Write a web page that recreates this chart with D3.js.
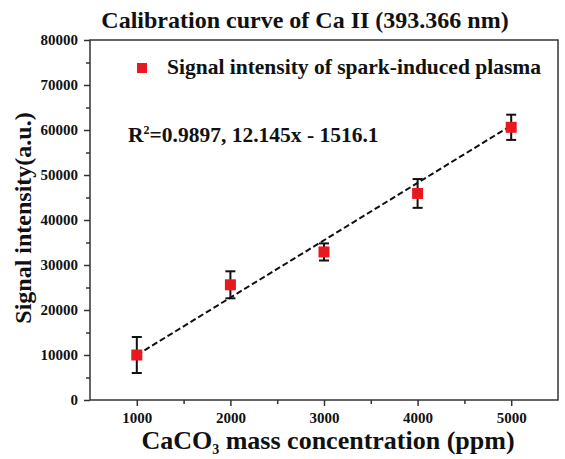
<!DOCTYPE html>
<html>
<head>
<meta charset="utf-8">
<script src="https://cdn.jsdelivr.net/npm/d3@7"></script>
<style>
  body { margin: 0; background: #fff; }
  text { font-family: "Liberation Serif", "Times New Roman", serif; font-weight: bold; }
</style>
</head>
<body>
<svg id="chart" width="565" height="459"></svg>
<script>
// data
var concentration = [1000, 2000, 3000, 4000, 5000];
var intensity = [10000, 25600, 32900, 45900, 60600];
var errorBar = [4000, 3000, 1900, 3200, 2800];
var fitX = [1000, 5000];
var fitY = [10000, 61000];
var xTicks = [1000, 2000, 3000, 4000, 5000];
var yTicks = [0, 10000, 20000, 30000, 40000, 50000, 60000, 70000, 80000];

var svg = d3.select("#chart");
var mLeft = 90, mRight = 558, mTop = 40, mBottom = 400;

var x = d3.scaleLinear().domain([500, 5500]).range([mLeft, mRight]);
var y = d3.scaleLinear().domain([0, 80000]).range([mBottom, mTop]);

var axisColor = "#333";

// frame
svg.append("rect")
    .attr("x", mLeft).attr("y", mTop)
    .attr("width", mRight - mLeft).attr("height", mBottom - mTop)
    .attr("fill", "none").attr("stroke", axisColor).attr("stroke-width", 1.5);

// minor ticks
let xMinor = svg.append("g")
    .attr("transform", "translate(0," + mBottom + ")")
    .call(d3.axisBottom(x).tickValues([1500, 2500, 3500, 4500]).tickSize(4).tickFormat(""));
let yMinor = svg.append("g")
    .attr("transform", "translate(" + mLeft + ",0)")
    .call(d3.axisLeft(y).tickValues(d3.range(5000, 80000, 10000)).tickSize(4).tickFormat(""));

// major ticks
let xAxis = svg.append("g")
    .attr("transform", "translate(0," + mBottom + ")")
    .call(d3.axisBottom(x).tickValues(xTicks).tickSize(6).tickPadding(6).tickFormat(d3.format("d")));
let yAxis = svg.append("g")
    .attr("transform", "translate(" + mLeft + ",0)")
    .call(d3.axisLeft(y).tickValues(yTicks).tickSize(6).tickPadding(6).tickFormat(d3.format("d")));

[xMinor, yMinor, xAxis, yAxis].forEach(function(g){
    g.select(".domain").remove();
    g.selectAll("line").attr("stroke", axisColor).attr("stroke-width", 1.5);
    g.selectAll("text").attr("fill", "#111")
        .style("font-family", "'Liberation Serif', serif").style("font-weight", "bold").style("font-size", "15px");
});

// fitted line
svg.append("line")
    .attr("x1", x(fitX[0])).attr("y1", y(fitY[0]))
    .attr("x2", x(fitX[1])).attr("y2", y(fitY[1]))
    .attr("stroke", "#111").attr("stroke-width", 2).attr("stroke-dasharray", "6,3");

var pts = concentration.map(function(c, i){ return {x: c, y: intensity[i], e: errorBar[i]}; });

// error bars
let bars = svg.append("g").selectAll("g").data(pts).enter().append("g")
    .attr("stroke", "#111").attr("stroke-width", 2);
bars.append("line")
    .attr("x1", d => x(d.x)).attr("x2", d => x(d.x))
    .attr("y1", d => y(d.y - d.e)).attr("y2", d => y(d.y + d.e));
bars.append("line")
    .attr("x1", d => x(d.x) - 5).attr("x2", d => x(d.x) + 5)
    .attr("y1", d => y(d.y + d.e)).attr("y2", d => y(d.y + d.e));
bars.append("line")
    .attr("x1", d => x(d.x) - 5).attr("x2", d => x(d.x) + 5)
    .attr("y1", d => y(d.y - d.e)).attr("y2", d => y(d.y - d.e));

// points
svg.append("g").selectAll("rect").data(pts).enter().append("rect")
    .attr("x", d => x(d.x) - 5.5).attr("y", d => y(d.y) - 5.5)
    .attr("width", 11).attr("height", 11)
    .attr("fill", "#e8191e");

// legend
svg.append("rect").attr("x", 137).attr("y", 63).attr("width", 10).attr("height", 10).attr("fill", "#e8191e");
svg.append("text").attr("x", 167).attr("y", 74).style("font-size", "21.5px").attr("fill", "#111")
    .text("Signal intensity of spark-induced plasma");

// equation
let eq = svg.append("text").attr("x", 128).attr("y", 142).style("font-size", "21.5px").attr("fill", "#111");
eq.append("tspan").text("R");
eq.append("tspan").attr("dy", -8).style("font-size", "12px").text("2");
eq.append("tspan").attr("dy", 8).text("=0.9897, 12.145x - 1516.1");

// title
svg.append("text").attr("x", 305).attr("y", 28).attr("text-anchor", "middle")
    .style("font-size", "24px").attr("fill", "#111")
    .text("Calibration curve of Ca II (393.366 nm)");

// x title
let xt = svg.append("text").attr("x", 328).attr("y", 449).attr("text-anchor", "middle")
    .style("font-size", "26px").attr("fill", "#111");
xt.append("tspan").text("CaCO");
xt.append("tspan").attr("dy", 5).style("font-size", "14px").text("3");
xt.append("tspan").attr("dy", -5).text(" mass concentration (ppm)");

// y title
svg.append("text").attr("transform", "translate(31,218) rotate(-90)")
    .attr("text-anchor", "middle").style("font-size", "24px").attr("fill", "#111")
    .text("Signal intensity(a.u.)");
</script>
</body>
</html>
